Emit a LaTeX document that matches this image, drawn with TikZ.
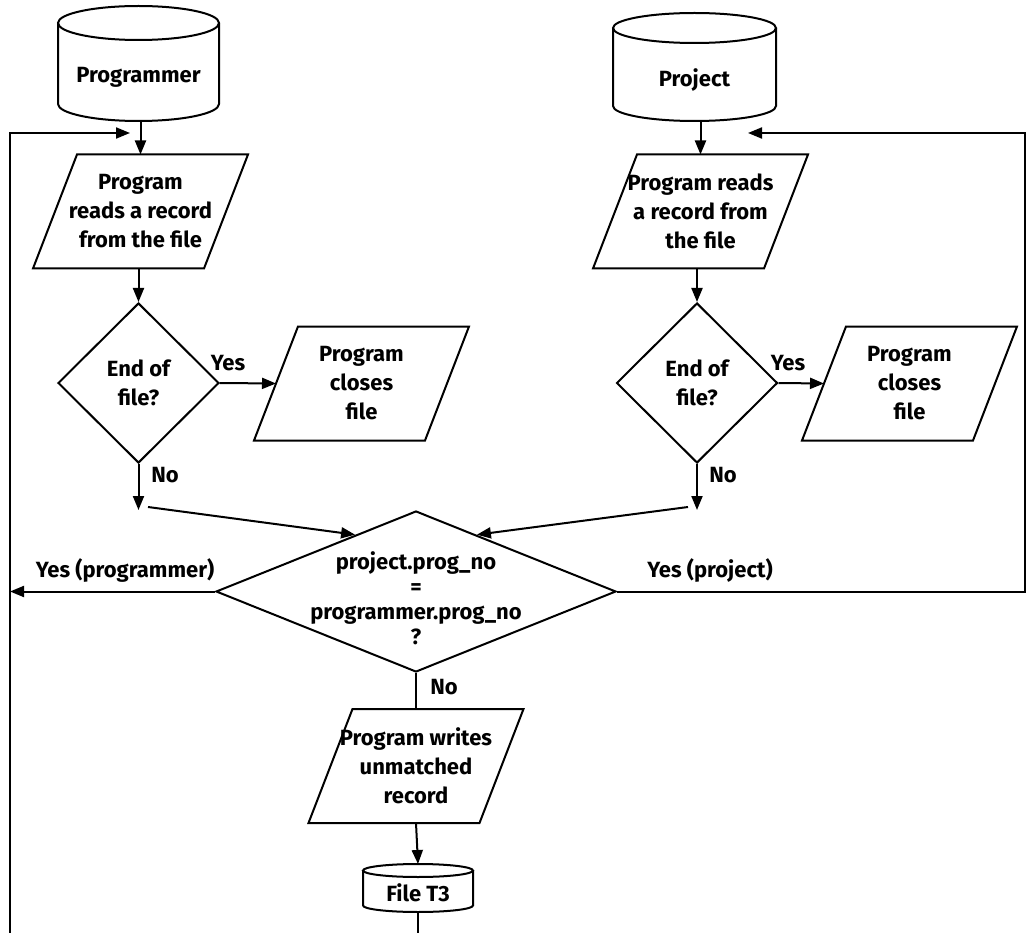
\documentclass[tikz,border=0pt]{standalone}
\usepackage{fontspec}
\setmainfont{Fira Sans}
\usetikzlibrary{shapes.geometric,arrows.meta,calc}
\newcommand\cylinderdraw[3]{%
  \draw[line] ($(#1.north)+(0,#3)$) ellipse [x radius=#2pt, y radius=#3pt];
  \draw[line] ($(#1.north west)+(0,#3)$) -- ($(#1.south west)+(0,-#3)$)
     arc [start angle=180, end angle=360, x radius=#2pt, y radius=#3pt]
     -- ($(#1.north east)+(0,#3)$);
}
\newcommand\paradraw[1]{%
  \draw[line,line join=miter] ($(#1.north west)+(22,0)$) -- ($(#1.north east)+(22,0)$)
     -- ($(#1.south east)+(-22,0)$) -- ($(#1.south west)+(-22,0)$) -- cycle;
}
\begin{document}
\begin{tikzpicture}[x=1pt,y=-1pt,
  line/.style={line width=2pt},
  arr/.style={line width=2pt,-{Triangle[length=14pt,width=11pt]}},
  txt/.style={font=\fontsize{22}{29}\selectfont\bfseries,align=center,inner sep=0pt},
  para/.style={txt,minimum width=171pt,minimum height=114pt,outer sep=0pt},
  dia/.style={draw,line width=2pt,diamond,inner sep=0pt},
  cylbox/.style={inner sep=0pt,outer sep=0pt}
]
\fill[white] (0,0) rectangle (1028,933);
\useasboundingbox (0,0) rectangle (1028,933);

% cylinders
\node[cylbox,minimum width=161pt,minimum height=115pt] (prog) at (138.5,63.5) {};
\cylinderdraw{prog}{80.5}{17}
\node[txt] (progt) at (138.5,77) {Programmer};

\node[cylbox,minimum width=163pt,minimum height=108pt] (proj) at (694.5,67) {};
\cylinderdraw{proj}{81.5}{15}
\node[txt] (projt) at (694.5,80) {Project};

\node[cylbox,minimum width=110pt,minimum height=48pt] (t3) at (418,888) {};
\cylinderdraw{t3}{55}{6.5}
\node[txt] (t3t) at (418,893) {File T3};

% parallelograms
\node[para] (p1) at (140.5,211.5) {Program\\reads a record\\from the file};
\paradraw{p1}
\node[para] (p2) at (700.5,211.5) {Program reads\\a record from\\the file};
\paradraw{p2}
\node[para] (c1) at (361.5,383.5) {Program\\closes\\file};
\paradraw{c1}
\node[para] (c2) at (909.5,383.5) {Program\\closes\\file};
\paradraw{c2}
\node[para] (w) at (416,766) {Program writes\\unmatched\\record};
\paradraw{w}

% diamonds
\node[dia,minimum width=161pt,minimum height=160pt] (d1) at (138.5,383) {};
\node[txt] (d1t) at (138.5,383) {End of\\file?};
\node[dia,minimum width=161pt,minimum height=160pt] (d2) at (697,383) {};
\node[txt] (d2t) at (697,383) {End of\\file?};
\node[dia,minimum width=400pt,minimum height=161pt] (bigd) at (416,591.5) {};
\node[txt,font=\fontsize{22}{25}\selectfont\bfseries] (bigt) at (416,598) {project.prog\_no\\=\\programmer.prog\_no\\?};

% labels
\node[txt] (y1) at (228,363) {Yes};
\node[txt] (y2) at (788,363) {Yes};
\node[txt] (n1) at (165,475) {No};
\node[txt] (n2) at (723,475) {No};
\node[txt] (n3) at (444,687) {No};
\node[txt] (yprog) at (125,570) {Yes (programmer)};
\node[txt] (yproj) at (710,570) {Yes (project)};

% coordinates
\coordinate (lb) at (10,933);
\coordinate (lt) at (130,133);
\coordinate (rc) at (1025,133);
\coordinate (rt) at (748,133);
\coordinate (e1) at (138.5,510);
\coordinate (e2) at (697,510);
\coordinate (m1) at (148,507);
\coordinate (m2) at (688,507);
\coordinate (bot) at (418,933);

% connectors
\draw[arr] (prog.south -| p1.north) -- (p1.north);
\draw[arr] (lb) |- (lt);
\draw[arr] (p1.south -| d1.north) -- (d1.north);
\draw[arr] (d1.east) -- (c1.west);
\draw[arr] (d1.south) -- (e1);
\draw[arr] (m1) -- (bigd.137);

\draw[arr] (proj.south -| p2.north) -- (p2.north);
\draw[arr] (p2.south -| d2.north) -- (d2.north);
\draw[arr] (d2.east) -- (c2.west);
\draw[arr] (d2.south) -- (e2);
\draw[arr] (m2) -- (bigd.43);

\draw[arr] (bigd.west) -- (bigd.west -| lb);
\draw[arr] (bigd.east) -| (rc) -- (rt);
\draw[line] (bigd.south) -- (w.north);
\draw[arr] (w.south) -- (t3.north);
\draw[line] (t3.south) -- (bot);
\end{tikzpicture}
\end{document}
